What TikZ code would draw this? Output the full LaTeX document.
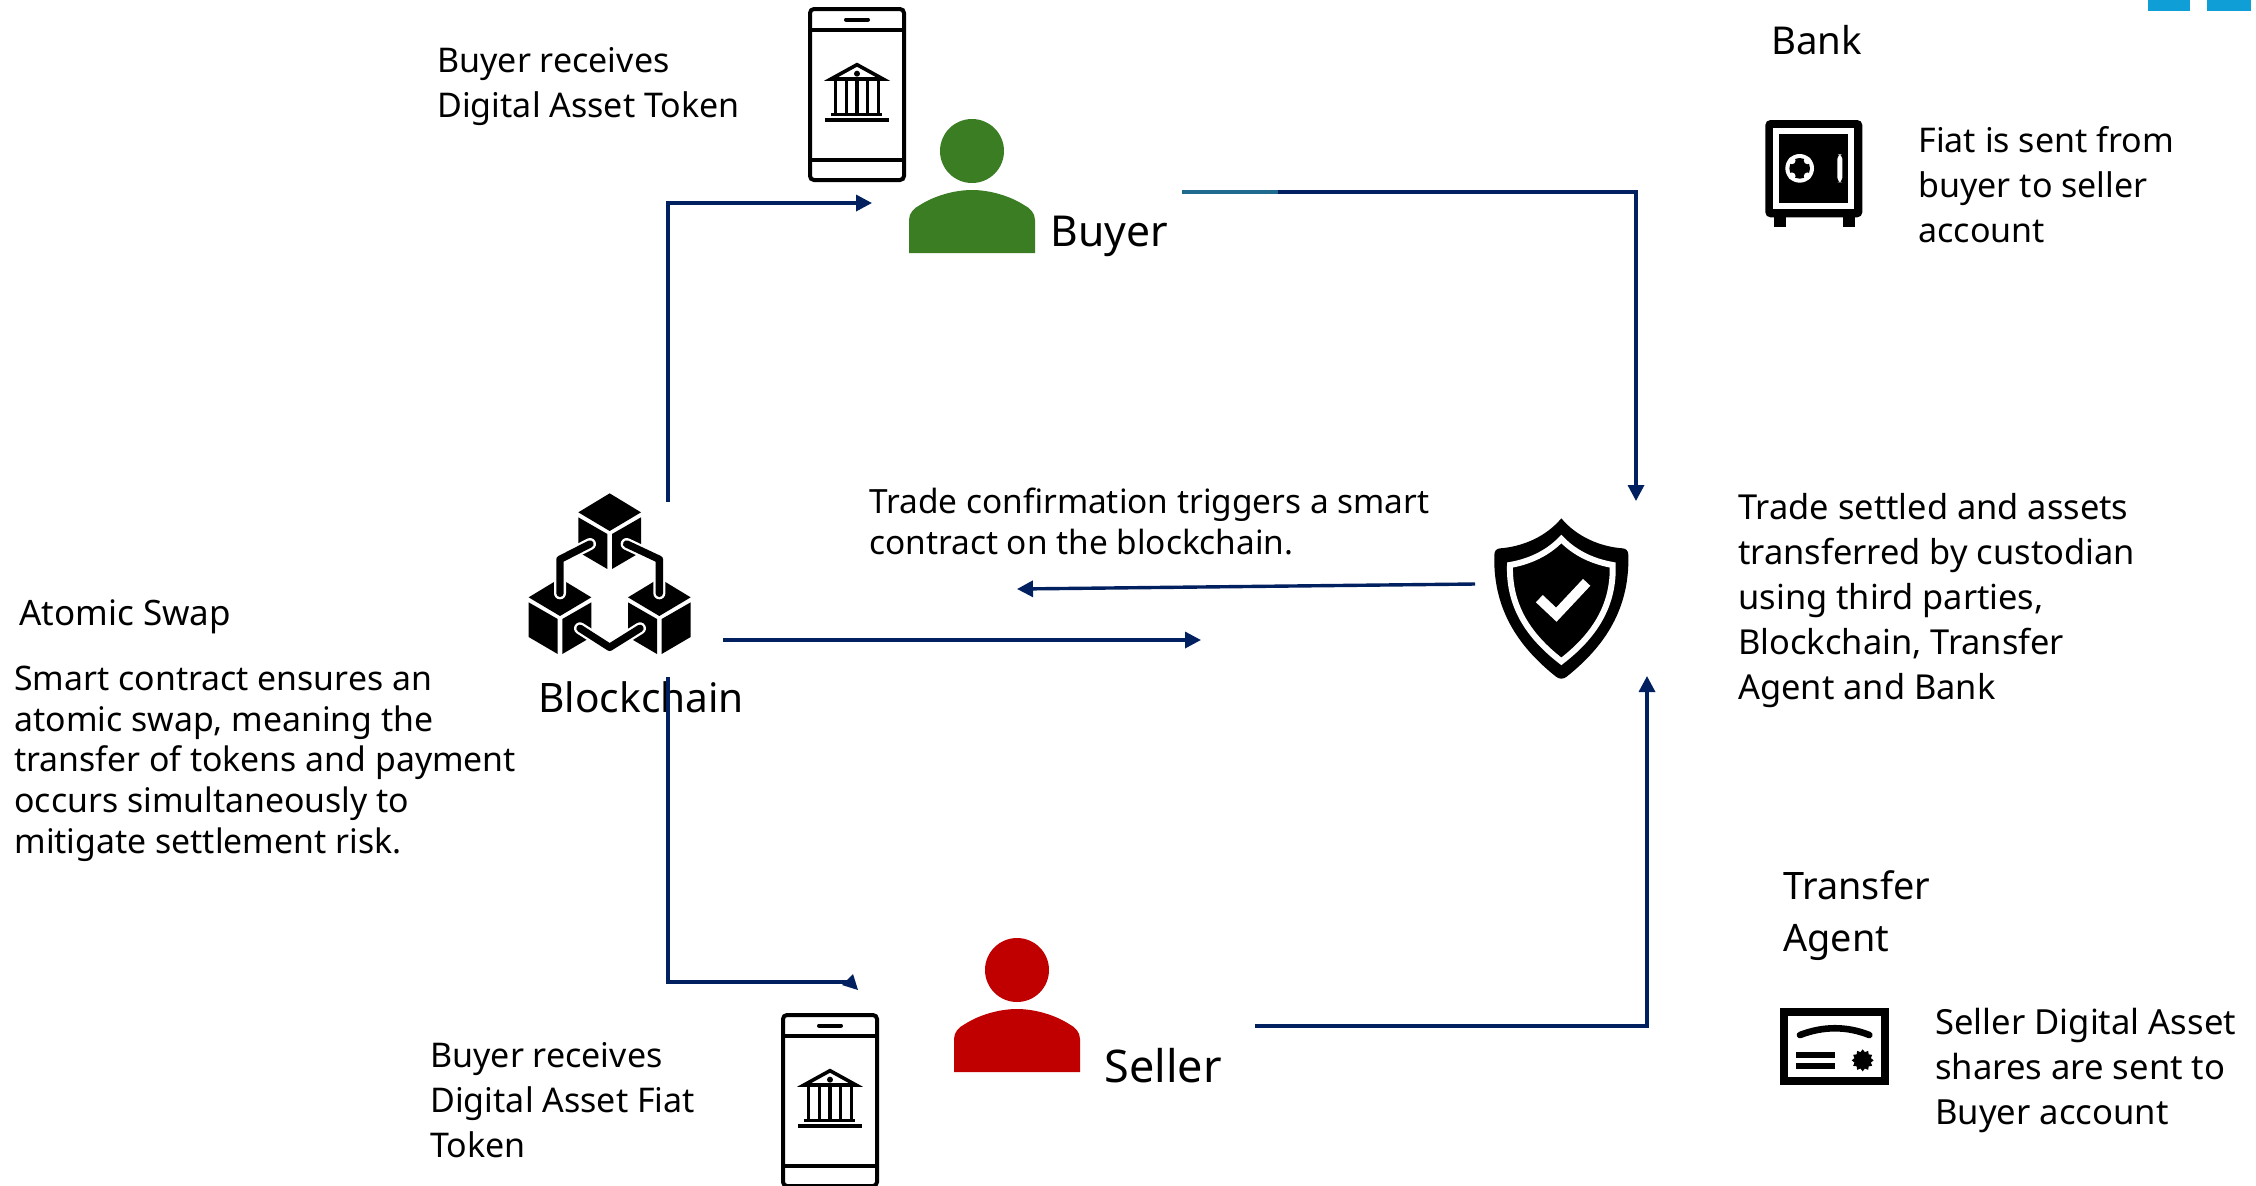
\documentclass[tikz,border=0pt]{standalone}
\usepackage{fontspec}
\setmainfont{Noto Sans}
\usetikzlibrary{arrows.meta,shapes.geometric}
\definecolor{navy}{HTML}{002060}
\definecolor{teal2}{HTML}{1F6B8F}
\definecolor{buyergreen}{HTML}{3B7D23}
\definecolor{sellerred}{HTML}{C00000}
\definecolor{tabblue}{HTML}{0F9ED5}
\newcommand{\cubeshape}[2]{%
  \begin{scope}[shift={(#1,#2)}]
    \fill (329,70)--(423,127)--(329,183)--(235,127)--cycle;
    \fill (235,142)--(322,192)--(322,297)--(235,246)--cycle;
    \fill (336,192)--(423,142)--(423,246)--(336,297)--cycle;
  \end{scope}}
\tikzset{
  conn/.style={draw=navy,line width=1.7pt},
  connarrow/.style={conn,-{Triangle[length=8pt,width=8pt]}},
  txt/.style={anchor=base west,inner sep=0pt,align=left,text=black,font=\fontsize{#1}{22.4}\selectfont},
  txt/.default=17,
  txtb/.style={anchor=base west,inner sep=0pt,align=left,text=black,font=\fontsize{#1}{20.3}\selectfont},
  biglabel/.style={anchor=base west,inner sep=0pt,align=left,text=black,font=\fontsize{#1}{26}\selectfont},
  pics/phonepic/.style={code={
    \draw[line width=2pt,rounded corners=2pt] (2,2) rectangle (96,173);
    \draw[line width=1.8pt] (2,23)--(96,23) (2,153)--(96,153);
    \draw[line width=2pt,line cap=round] (38,12.5)--(60,12.5);
    \begin{scope}[shift={(49,56)},scale=1/3]
      \draw[line width=1.8pt,line join=miter] (-78,48)--(0,5)--(78,48)--cycle;
      \fill (0,32) circle (9);
      \foreach \cx in {-64,-32,0,32,64} \fill (\cx-5,53) rectangle (\cx+5,150);
      \fill (-77,150) rectangle (76,160);
      \fill (-95,164) rectangle (97,176);
    \end{scope}
  }},
  pics/personpic/.style={code={
    \fill[#1] (0,0) circle (32);
    \fill[#1] (-63,102)--(-63,69) .. controls (-63,62) and (-58,57) .. (-52,54)
       .. controls (-38,45) and (-18,39) .. (0,39)
       .. controls (18,39) and (38,45) .. (52,54)
       .. controls (58,57) and (63,62) .. (63,69)--(63,102)--cycle;
  }},
  linkline/.style={line cap=round,line join=round,line width=#1}
}
\begin{document}
\begin{tikzpicture}[x=.5pt,y=-.5pt]
\useasboundingbox (0,0) rectangle (2256,1185);
\clip (0,0) rectangle (2256,1185);
\fill[white] (0,0) rectangle (2256,1185);

% corner tabs
\fill[tabblue] (2148,0) rectangle (2190,11);
\fill[tabblue] (2207,0) rectangle (2251,11);

% named connector ends
\coordinate (bcUp) at (668,502);
\coordinate (buyerIn) at (872,203);
\coordinate (buyerOut) at (1182,192);
\coordinate (tealEnd) at (1278,192);
\coordinate (custIn) at (1636,501);
\coordinate (custOutStart) at (1475,584);
\coordinate (smartEnd) at (1017,589);
\coordinate (bcRight) at (723,640);
\coordinate (custFromBc) at (1201,640);
\coordinate (bcDown) at (668,677);
\coordinate (sellerCorner) at (668,982);
\coordinate (sellerTurn) at (848,982);
\coordinate (sellerIn) at (858,990);
\coordinate (sellerOut) at (1255,1026);
\coordinate (custFromSeller) at (1647,676);

% phones
\pic at (808,7) {phonepic};
\pic at (781,1013) {phonepic};
% people
\pic at (972,151) {personpic=buyergreen};
\pic at (1017,970) {personpic=sellerred};

% blockchain icon
\begin{scope}[shift={(500,470)},scale=1/3]
  \cubeshape{0}{0}
  \cubeshape{-149}{255}
  \cubeshape{149}{255}
  \draw[white,linkline=6pt] (270,222)--(180,268)--(180,370);
  \draw[white,linkline=6pt] (380,222)--(478,268)--(478,370);
  \draw[white,linkline=6pt] (240,475)--(329,532)--(420,475);
  \draw[linkline=3.7pt] (270,222)--(180,268)--(180,370);
  \draw[linkline=3.7pt] (380,222)--(478,268)--(478,370);
  \draw[linkline=3.7pt] (240,475)--(329,532)--(420,475);
\end{scope}

% shield icon
\begin{scope}[shift={(1460,500)},scale=1/3]
  \fill (304,55) .. controls (350,110) and (420,140) .. (488,145)
     .. controls (498,146) and (505,152) .. (505,165)
     .. controls (510,340) and (420,450) .. (320,530)
     .. controls (310,538) and (298,538) .. (288,530)
     .. controls (188,450) and (98,340) .. (103,165)
     .. controls (103,152) and (110,146) .. (120,145)
     .. controls (188,140) and (258,110) .. (304,55) -- cycle;
  \draw[white,line width=3pt,line join=miter] (304,117) .. controls (345,160) and (400,185) .. (458,195)
     .. controls (462,320) and (400,410) .. (304,484)
     .. controls (208,410) and (146,320) .. (150,195)
     .. controls (208,185) and (263,160) .. (304,117) -- cycle;
  \draw[white,line width=5pt,line join=miter] (238,296)--(289,344)--(380,247);
\end{scope}

% safe icon
\begin{scope}[shift={(1740,100)},scale=1/3]
  \fill[rounded corners=2.5pt] (76,60) rectangle (367,352);
  \fill (102,350) rectangle (138,382);
  \fill (309,350) rectangle (345,382);
  \draw[white,line width=3pt] (109,94) rectangle (334,319);
  \fill[white] (179,205) circle (43);
  \fill (179,205) circle (31);
  \foreach \a in {45,135,225,315} \fill[white] (179,205) ++(\a:33) circle (11);
  \fill[white,rounded corners=2.3pt] (292,163) rectangle (307,247);
\end{scope}

% certificate icon
\begin{scope}[shift={(1760,990)},scale=1/3]
  \draw[line width=4pt] (72,67) rectangle (376,272);
  \draw[line width=3.3pt,line cap=round] (120,135) .. controls (190,108) and (260,108) .. (328,135);
  \fill (108,186) rectangle (225,204);
  \fill (108,219) rectangle (225,237);
  \node (seal) at (308,211) [star,star points=12,star point ratio=1.3,fill=black,inner sep=0pt,minimum size=11pt] {};
\end{scope}

% connectors
\draw[connarrow] (bcUp) |- (buyerIn);
\draw[conn] (buyerOut) -- (tealEnd);
\draw[connarrow] (tealEnd) -| (custIn);
\draw[conn,draw=teal2] (buyerOut) -- (tealEnd);
\draw[connarrow] (custOutStart) -- (smartEnd);
\draw[connarrow] (bcRight) -- (custFromBc);
\draw[connarrow] (sellerOut) -| (custFromSeller);

% labels
\node[biglabel=21.3] (buyerLabel) at (1050,246) {Buyer};
\node[biglabel=22.5] (sellerLabel) at (1104,1082) {Seller};
\node[biglabel=20.3] (blockLabel) at (538,712) {Blockchain};
\draw[conn] (bcDown) -- (sellerCorner) -- (sellerTurn);
\fill[navy] (sellerIn) -- (853,974) -- (842,985) -- cycle;
\node[biglabel=19.2] (bankLabel) at (1771,54) {Bank};
\node[biglabel=18.9] (taLabel) at (1783,951) {Transfer\\Agent};

\node[txt] (t1) at (437,117) {Buyer receives\\Digital Asset Token};
\node[txt] (t2) at (1918,242) {Fiat is sent from\\buyer to seller\\account};
\node[txtb=16.7] (t3) at (869,554) {Trade confirmation triggers a smart\\contract on the blockchain.};
\node[txt=17.2] (t4) at (1738,699) {Trade settled and assets\\transferred by custodian\\using third parties,\\Blockchain, Transfer\\Agent and Bank};
\node[txt=17.5] (t5) at (19,625) {Atomic Swap};
\node[txtb=16.9] (t6) at (14,853) {Smart contract ensures an\\atomic swap, meaning the\\transfer of tokens and payment\\occurs simultaneously to\\mitigate settlement risk.};
\node[txt=17.3] (t7) at (1935,1124) {Seller Digital Asset\\shares are sent to\\Buyer account};
\node[txt] (t8) at (430,1157) {Buyer receives\\Digital Asset Fiat\\Token};
\end{tikzpicture}
\end{document}
